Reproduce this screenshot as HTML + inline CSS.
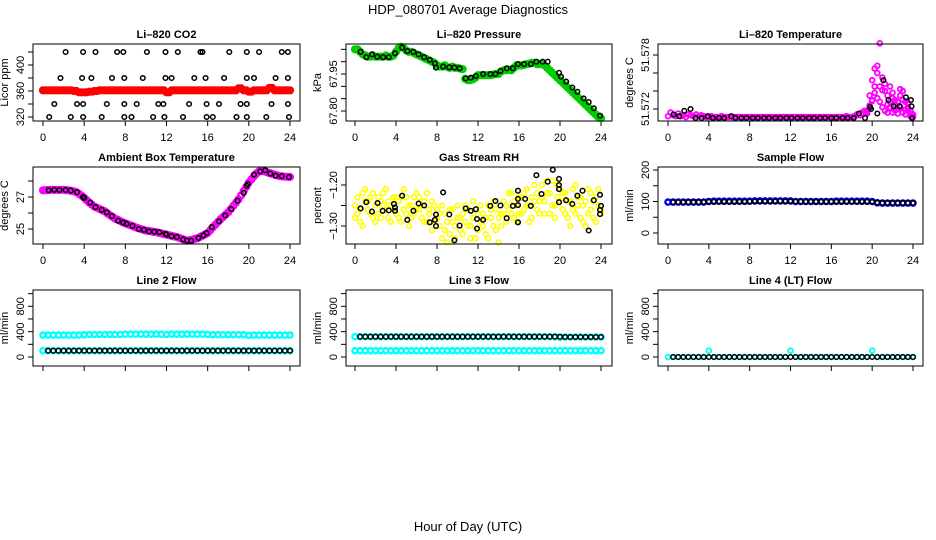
<!DOCTYPE html>
<html><head><meta charset="utf-8"><style>
body{margin:0;background:#fff}
svg{display:block;font-family:"Liberation Sans",Arial,sans-serif}
</style></head><body>
<svg id="c" width="936" height="540" viewBox="0 0 936 540">
<text x="468" y="14" text-anchor="middle" font-size="13">HDP_080701  Average Diagnostics</text>
<text x="468" y="531" text-anchor="middle" font-size="13">Hour of Day (UTC)</text>
</svg>
<script>
// ---- shared categories ----
const blackH = [0.6,1.1,1.7,2.2,2.7,3.3,3.9,4.4,5.0,5.5,6.1,6.6,7.2,7.7,8.3,8.8,9.4,9.9,10.5,11.0,11.6,12.1,12.7,13.2,13.8,14.3,14.9,15.4,16.0,16.5,17.1,17.6,18.2,18.7,19.3,19.8,20.4,20.9,21.5,22.0,22.6,23.1,23.7,24.0];
const xTicks = [0,4,8,12,16,20,24];

// ---- CO2 ----
const co2RedH = [0,0.5,1,1.5,2,2.5,3,3.5,4,4.5,5,5.5,6,6.5,7,7.5,8,8.5,9,9.5,10,10.5,11,11.5,12,12.5,13,13.5,14,14.5,15,15.5,16,16.5,17,17.5,18,18.5,19,19.5,20,20.5,21,21.5,22,22.5,23,23.5,24];
const co2Red = [361,361,361,361,361,361,360,358,358,359,360,361,361,361,361,361,361,361,361,361,361,361,361,361,358,361,361,361,361,361,361,361,361,361,361,361,361,361,364,361,359,361,361,361,365,361,361,361,361];
const co2BlackH = [2.2,3.9,5.1,7.2,7.8,10.1,11.9,13.1,15.3,15.5,18.1,19.8,21.0,23.2,23.8, 1.7,3.8,4.7,6.7,7.9,9.7,11.9,12.5,14.7,15.8,17.6,19.8,20.5,22.6,23.8, 1.1,3.3,3.9,6.2,7.9,9.1,11.2,11.7,14.2,15.9,17.1,19.2,19.8,22.2,23.8, 0.6,2.7,3.9,5.7,7.9,8.6,10.7,11.8,13.6,15.9,16.5,18.8,19.8,21.7,23.9];
const co2Black = [420,420,420,420,420,420,420,420,420,420,420,420,420,420,420, 380,380,380,380,380,380,380,380,380,380,380,380,380,380,380, 340,340,340,340,340,340,340,340,340,340,340,340,340,340,340, 320,320,320,320,320,320,320,320,320,320,320,320,320,320,320];

// ---- Pressure ----
const presGreen = [68.05,68.05,68.04,68.03,68.025,68.02,68.02,68.025,68.02,68.02,68.02,68.02,68.025,68.02,68.02,68.025,68.04,68.055,68.06,68.055,68.045,68.04,68.04,68.035,68.03,68.025,68.02,68.015,68.01,68.005,68.0,67.995,67.985,67.98,67.98,67.985,67.978,67.975,67.98,67.975,67.975,67.972,67.97,67.93,67.925,67.925,67.928,67.935,67.945,67.945,67.945,67.945,67.945,67.945,67.948,67.95,67.95,67.96,67.965,67.965,67.968,67.965,67.975,67.985,67.985,67.985,67.987,67.99,67.992,67.995,67.995,67.99,67.99,67.99,67.985,67.975,67.965,67.955,67.945,67.935,67.925,67.915,67.905,67.895,67.885,67.875,67.865,67.855,67.845,67.835,67.825,67.815,67.805,67.795,67.785,67.775,67.77];
const presBlackH = [0.55,1.1,1.66,2.18,2.74,3.3,3.9,4.6,5.1,5.7,6.2,6.75,7.3,7.8,7.9,8.6,9.2,9.7,10.2,10.8,11.3,11.8,12.5,13.2,13.7,14.2,14.8,15.4,15.9,16.5,17.15,17.7,18.3,18.8,19.9,20.1,20.6,21.2,21.7,22.3,22.8,23.3,23.9];
const presBlack = [68.04,68.018,68.03,68.02,68.018,68.018,68.034,68.057,68.043,68.04,68.03,68.018,68.007,67.993,67.976,67.98,67.977,67.976,67.973,67.932,67.935,67.942,67.95,67.95,67.95,67.962,67.973,67.973,67.99,67.99,67.99,68.0,68.0,68.0,67.955,67.939,67.919,67.895,67.878,67.851,67.836,67.811,67.781];

// ---- Li-820 Temperature ----
const tempMag = [51.5712,51.5716,51.5713,51.5712,51.5715,51.5712,51.5713,51.5711,51.5714,51.5713,51.5712,51.5714,51.5712,51.5713,51.5712,
51.5711,51.5711,51.5712,51.5711,51.5711,51.5711,51.5712,51.5711,51.5711,51.5711,51.5711,51.5711,51.5711,51.5711,51.5711,51.5711,51.5711,51.5711,51.5711,51.5711,51.5711,51.5711,51.5711,51.5711,51.5711,51.5711,51.5711,51.5711,51.5711,51.5711,51.5711,51.5711,51.5711,51.5711,51.5711,51.5711,51.5711,51.5711,51.5711,51.5711,51.5711,51.5711,51.5711,51.5711,51.5711,51.5711,51.5711,51.5711,51.5711,51.5711,51.5711,51.5711,51.5711,51.5711,51.5711,51.5712,51.5711,51.5711,
51.5712,51.5714,51.5713,51.5716,51.5718,51.5715,
51.5724,51.5730,51.5738,51.5760,51.5745,51.5741,51.5748,51.5735,51.5728,51.5732,51.5725,51.5720,51.5735,51.5740,51.5728,51.5722,51.5718,51.5714];
const tempMag2H = [19.5,19.75,20,20.25,20.5,20.75,21,21.25,21.5,21.75,22,22.25,22.5,22.75,23,23.25,23.5,23.75,24];
const tempMag2 = [51.5718,51.5735,51.5752,51.5765,51.5768,51.5793,51.5755,51.5740,51.5725,51.5745,51.5738,51.5718,51.5728,51.5742,51.5730,51.5719,51.5726,51.5715,51.5712];
const tempMag3 = [51.5716,51.5722,51.5729,51.5745,51.5732,51.5728,51.5722,51.5718,51.5716,51.5722,51.5716,51.5730,51.5715,51.5722,51.5716,51.5714,51.5720,51.5712,51.5711];
const tempBlackH = [0.55,1.1,1.6,2.2,2.7,3.3,3.9,4.4,5.0,5.5,6.2,6.6,7.2,7.7,8.3,8.8,9.4,9.9,10.5,11.0,11.6,12.1,12.7,13.2,13.8,14.3,14.9,15.4,16.0,16.5,17.1,17.6,18.2,18.7,19.3,19.8,19.9,20.5,21.1,21.6,22.1,22.7,23.3,23.8,23.85,23.9];
const tempBlack = [51.5714,51.5712,51.5718,51.5720,51.5710,51.5710,51.5712,51.5710,51.5710,51.5710,51.5712,51.5710,51.5710,51.5710,51.5710,51.5710,51.5710,51.5710,51.5710,51.5710,51.5710,51.5710,51.5710,51.5710,51.5710,51.5710,51.5710,51.5710,51.5710,51.5710,51.5710,51.5710,51.5710,51.5715,51.5710,51.5722,51.5720,51.5715,51.5752,51.5730,51.5723,51.5723,51.5733,51.5730,51.5723,51.5710];

// ---- Ambient box temperature ----
const ambMag = [27.42,27.43,27.44,27.45,27.45,27.45,27.45,27.45,27.45,27.43,27.41,27.38,27.35,27.3,27.2,27.08,26.95,26.8,26.65,26.52,26.4,26.32,26.25,26.17,26.1,25.98,25.87,25.76,25.65,25.58,25.5,25.42,25.35,25.29,25.23,25.16,25.1,25.05,25.0,24.95,24.9,24.88,24.85,24.82,24.8,24.76,24.72,24.68,24.65,24.61,24.57,24.53,24.5,24.44,24.38,24.32,24.27,24.3,24.34,24.38,24.42,24.5,24.58,24.66,24.75,24.92,25.1,25.27,25.45,25.6,25.75,25.9,26.05,26.25,26.45,26.65,26.85,27.1,27.38,27.64,27.9,28.1,28.3,28.48,28.6,28.62,28.6,28.55,28.5,28.45,28.4,28.35,28.3,28.29,28.27,28.26,28.25];
const ambBlackH = [0.55,1.1,1.6,2.2,2.7,3.3,3.9,4.0,4.6,5.1,5.7,6.2,6.7,7.3,7.8,8.1,8.7,9.3,9.8,10.3,10.8,11.3,11.9,12.0,12.5,13.0,13.6,14.0,14.4,15.1,15.6,15.9,16.4,17.1,17.7,18.3,18.9,19.5,19.8,19.9,20.5,21.1,21.6,22.1,22.6,23.2,23.9];
const ambBlack = [27.42,27.45,27.44,27.44,27.4,27.3,27.0,26.94,26.65,26.37,26.2,26.04,25.8,25.52,25.4,25.33,25.2,25.0,24.95,24.85,24.83,24.8,24.7,24.65,24.55,24.5,24.35,24.27,24.27,24.44,24.6,24.75,25.12,25.48,25.85,26.25,26.77,27.25,27.7,27.8,28.4,28.6,28.67,28.46,28.33,28.3,28.25];

// ---- Gas stream RH ----
const rhY1 = [-1.25,-1.27,-1.29,-1.22,-1.24,-1.26,-1.23,-1.28,-1.25,-1.27,-1.24,-1.22,-1.26,-1.28,-1.25,-1.23,-1.27,-1.24,-1.29,-1.26,-1.23,-1.30,-1.25,-1.27,-1.22,-1.26,-1.28,-1.24,-1.29,-1.27,-1.31,-1.25,-1.28,-1.30,-1.33,-1.27,-1.29,-1.32,-1.26,-1.30,-1.28,-1.31,-1.27,-1.25,-1.30,-1.33,-1.28,-1.26,-1.31,-1.29,-1.27,-1.32,-1.25,-1.28,-1.30,-1.26,-1.34,-1.27,-1.24,-1.29,-1.26,-1.22,-1.28,-1.25,-1.27,-1.23,-1.26,-1.21,-1.25,-1.28,-1.24,-1.22,-1.27,-1.20,-1.24,-1.22,-1.27,-1.19,-1.25,-1.23,-1.21,-1.26,-1.22,-1.28,-1.24,-1.21,-1.27,-1.25,-1.23,-1.29,-1.24,-1.21,-1.26,-1.28,-1.23,-1.25,-1.27];
const rhY2 = [-1.28,-1.23,-1.26,-1.30,-1.21,-1.24,-1.27,-1.22,-1.29,-1.23,-1.28,-1.25,-1.21,-1.24,-1.29,-1.26,-1.23,-1.28,-1.23,-1.21,-1.27,-1.25,-1.28,-1.23,-1.26,-1.23,-1.25,-1.29,-1.22,-1.26,-1.24,-1.29,-1.26,-1.27,-1.25,-1.31,-1.34,-1.26,-1.29,-1.33,-1.25,-1.28,-1.32,-1.29,-1.26,-1.30,-1.24,-1.33,-1.27,-1.25,-1.30,-1.28,-1.33,-1.26,-1.24,-1.31,-1.28,-1.30,-1.27,-1.25,-1.22,-1.27,-1.24,-1.29,-1.23,-1.27,-1.22,-1.25,-1.29,-1.23,-1.20,-1.26,-1.24,-1.23,-1.27,-1.19,-1.22,-1.25,-1.28,-1.20,-1.24,-1.22,-1.27,-1.24,-1.30,-1.26,-1.20,-1.23,-1.28,-1.25,-1.30,-1.27,-1.22,-1.24,-1.29,-1.21,-1.26];
const rhBlackH = [0.55,1.1,1.66,2.2,2.7,3.3,3.8,3.9,3.9,4.6,5.1,5.7,6.2,6.75,7.3,7.8,7.9,7.9,8.6,9.2,9.7,10.2,10.8,11.3,11.8,11.9,11.9,12.5,13.2,13.7,14.2,14.8,15.4,15.9,15.9,15.9,15.9,16.6,17.15,17.7,18.2,18.8,19.3,19.9,19.9,19.9,19.9,20.6,21.2,21.7,22.2,22.8,23.3,23.9,23.9,24.0,23.9];
const rhBlack = [-1.257,-1.242,-1.265,-1.244,-1.263,-1.262,-1.246,-1.255,-1.263,-1.226,-1.285,-1.263,-1.245,-1.25,-1.291,-1.285,-1.272,-1.30,-1.218,-1.272,-1.335,-1.299,-1.257,-1.263,-1.259,-1.283,-1.306,-1.285,-1.251,-1.239,-1.25,-1.281,-1.251,-1.249,-1.234,-1.214,-1.291,-1.234,-1.251,-1.176,-1.222,-1.192,-1.163,-1.185,-1.20,-1.21,-1.242,-1.237,-1.246,-1.226,-1.214,-1.311,-1.237,-1.224,-1.261,-1.251,-1.271];

// ---- Flows (dense series at half-hour steps) ----
const halfH = [0,0.5,1,1.5,2,2.5,3,3.5,4,4.5,5,5.5,6,6.5,7,7.5,8,8.5,9,9.5,10,10.5,11,11.5,12,12.5,13,13.5,14,14.5,15,15.5,16,16.5,17,17.5,18,18.5,19,19.5,20,20.5,21,21.5,22,22.5,23,23.5,24];
const sampleBlue = [98,98,98,98,98,98,98,98,100,101,101,101,101,101,101,101,101,102,102,102,102,102,102,102,102,100,100,100,100,100,100,100,100,101,101,101,101,101,101,101,100,96,95,95,95,95,95,95,95];
const sampleBlack = [98,98,98,98,98,98,99,99,99,99,99,99,99,99,99,100,100,100,100,100,100,101,100,100,100,100,99,99,99,99,99,99,99,99,99,99,99,99,99,98,97,96,96,96,96,96,96,96,98];
const l2CyanHi = [345,345,345,345,345,345,345,345,350,355,355,355,355,355,355,355,360,360,360,360,360,360,360,360,355,360,360,360,360,360,360,360,355,352,352,352,352,352,352,352,340,345,345,345,345,345,345,345,345];
const l2CyanLo = [100,100,100,100,100,100,100,100,100,100,100,100,100,100,100,100,100,100,100,100,100,100,100,100,100,100,100,100,100,100,100,100,100,100,100,100,100,100,100,100,100,100,100,100,100,100,100,100,100];
const l2Black = [100,100,100,100,100,100,100,100,100,100,100,100,100,100,100,100,100,100,100,100,100,100,100,100,100,100,100,100,100,100,100,100,100,100,100,100,100,100,100,100,100,100,100,100,100,100,100,100,100];
const l3CyanHi = [320,320,320,320,320,320,320,320,320,320,320,320,320,320,320,320,320,320,320,320,320,320,320,320,320,320,320,320,320,320,320,320,320,320,320,320,320,320,320,320,310,315,315,315,315,315,315,315,315];
const l3CyanLo = [100,100,100,100,100,100,100,100,100,100,100,100,100,100,100,100,100,100,100,100,100,100,100,100,100,100,100,100,100,100,100,100,100,100,100,100,100,100,100,100,100,100,100,100,100,100,100,100,100];
const l3Black = [320,320,320,320,320,320,320,320,320,320,320,320,320,320,320,320,320,320,320,320,320,320,320,320,320,320,320,320,320,320,320,320,320,320,320,320,320,320,320,320,315,315,315,315,315,315,315,315,315];
const l4Cyan = [0,0,0,0,0,0,0,0,100,0,0,0,0,0,0,0,0,0,0,0,0,0,0,0,100,0,0,0,0,0,0,0,0,0,0,0,0,0,0,0,100,0,0,0,0,0,0,0,0];
const l4Black = [0,0,0,0,0,0,0,0,0,0,0,0,0,0,0,0,0,0,0,0,0,0,0,0,0,0,0,0,0,0,0,0,0,0,0,0,0,0,0,0,0,0,0,0,0,0,0,0,0];

const quarterH = [];
for (let i = 0; i <= 96; i++) quarterH.push(i * 0.25);

const NS = 'http://www.w3.org/2000/svg';
const svg = document.getElementById('c');
function mk(tag, attrs, parent) {
  const e = document.createElementNS(NS, tag);
  for (const k in attrs) e.setAttribute(k, attrs[k]);
  (parent || svg).appendChild(e);
  return e;
}
const COLS = [{L:33,R:300,x0:43,x24:290},{L:346,R:612,x0:355,x24:601},{L:658,R:923,x0:668,x24:913}];
const ROWS = [{T:44,B:121},{T:167,B:244},{T:290,B:366}];

function panel(opt) {
  const c = COLS[opt.col], r = ROWS[opt.row];
  const g = mk('g', {});
  
  
  const xs = h => c.x0 + (c.x24 - c.x0) * h / 24;
  const ys = v => opt.p1 + (v - opt.v1) * (opt.p2 - opt.p1) / (opt.v2 - opt.v1);
  const t = mk('text', {x:(c.L+c.R)/2, y:r.T-6, 'text-anchor':'middle', 'font-size':11, 'font-weight':'bold'}, g);
  t.textContent = opt.title;
  
  
  mk('line', {x1:xs(0), x2:xs(24), y1:r.B, y2:r.B, stroke:'#000'}, g);
  xTicks.forEach(h => {
    mk('line', {x1:xs(h), x2:xs(h), y1:r.B, y2:r.B+5, stroke:'#000'}, g);
    if (opt.xlabels) {
      const tl = mk('text', {x:xs(h), y:r.B+20, 'text-anchor':'middle', 'font-size':11}, g);
      tl.textContent = h;
      
      
    }
  });
  opt.yticks.forEach(v => {
    const y = ys(v);
    mk('line', {x1:c.L-5, x2:c.L, y1:y, y2:y, stroke:'#000'}, g);
  });
  opt.ylabels.forEach(lab => {
    const y = ys(parseFloat(lab.replace('\u2212', '-')));
    const tl = mk('text', {x:0, y:0, 'text-anchor':'middle', 'font-size':11,
      transform:'translate(' + (c.L-9) + ',' + y + ') rotate(-90)'}, g);
    tl.textContent = lab;
    
    
  });
  const yt = mk('text', {x:0, y:0, 'text-anchor':'middle', 'font-size':11,
    transform:'translate(' + (c.L-25) + ',' + ((r.T+r.B)/2) + ') rotate(-90)'}, g);
  yt.textContent = opt.ytitle;
  
  
  opt.series.forEach(s => {
    const sg = mk('g', {fill:'none', stroke:s.color, 'stroke-width':s.w || 1.5}, g);
    
    
    s.x.forEach((h, i) => {
      if (s.y[i] === undefined) return;
      const p = mk('circle', {cx:xs(h).toFixed(1), cy:ys(s.y[i]).toFixed(1), r:s.r || 2.3}, sg);
      
      
    });
  });
  mk('rect', {x:c.L, y:r.T, width:c.R-c.L, height:r.B-r.T, fill:'none', stroke:'#000'}, g);
}

const DENSE = {r:2.6, w:2.4};
panel({col:0,row:0,name:'panel-co2',title:'Li\u2013820 CO2',ytitle:'Licor ppm',xlabels:true,
  v1:320,p1:117,v2:400,p2:65,yticks:[320,340,360,380,400,420],ylabels:['320','360','400'],
  series:[{name:'co2-red',color:'#ff0000',x:co2RedH,y:co2Red,r:2.6,w:3},
          {name:'co2-red-fill',color:'#ff0000',x:quarterH.filter((h,i)=>i%2==1),y:co2Red,r:2.6,w:3},
          {name:'co2-black',color:'#000',x:co2BlackH,y:co2Black}]});
panel({col:1,row:0,name:'panel-pressure',title:'Li\u2013820 Pressure',ytitle:'kPa',xlabels:true,
  v1:67.80,p1:111,v2:67.95,p2:74,yticks:[67.80,67.85,67.90,67.95,68.00,68.05],ylabels:['67.80','67.95'],
  series:[{name:'pressure-green',color:'#00cc00',x:quarterH,y:presGreen,r:2.8,w:2.6},
          {name:'pressure-black',color:'#000',x:presBlackH,y:presBlack}]});
panel({col:2,row:0,name:'panel-li820-temp',title:'Li\u2013820 Temperature',ytitle:'degrees C',xlabels:true,
  v1:51.572,p1:109,v2:51.578,p2:55,yticks:[51.572,51.574,51.576,51.578],ylabels:['51.572','51.578'],
  series:[{name:'temp-magenta',color:'#ff00ff',x:quarterH,y:tempMag,r:2.4,w:1.8},
          {name:'temp-magenta-2',color:'#ff00ff',x:tempMag2H,y:tempMag2,r:2.4,w:1.8},
          {name:'temp-magenta-3',color:'#ff00ff',x:tempMag2H,y:tempMag3,r:2.4,w:1.8},
          {name:'temp-black',color:'#000',x:tempBlackH,y:tempBlack}]});
panel({col:0,row:1,name:'panel-ambient',title:'Ambient Box Temperature',ytitle:'degrees C',xlabels:true,
  v1:25,p1:229,v2:27,p2:197,yticks:[25,26,27,28],ylabels:['25','27'],
  series:[{name:'ambient-magenta',color:'#ff00ff',x:quarterH,y:ambMag,r:2.8,w:2.6},
          {name:'ambient-black',color:'#000',x:ambBlackH,y:ambBlack}]});
panel({col:1,row:1,name:'panel-rh',title:'Gas Stream RH',ytitle:'percent',xlabels:true,
  v1:-1.30,p1:226,v2:-1.20,p2:185,yticks:[-1.30,-1.25,-1.20],ylabels:['\u22121.30','\u22121.20'],
  series:[{name:'rh-yellow-1',color:'#ffff00',x:quarterH,y:rhY1,r:2.4,w:1.6},
          {name:'rh-yellow-2',color:'#ffff00',x:quarterH,y:rhY2,r:2.4,w:1.6},
          {name:'rh-black',color:'#000',x:rhBlackH,y:rhBlack}]});
panel({col:2,row:1,name:'panel-sample-flow',title:'Sample Flow',ytitle:'ml/min',xlabels:true,
  v1:0,p1:233,v2:200,p2:170,yticks:[0,50,100,150,200],ylabels:['0','100','200'],
  series:[{name:'sample-blue',color:'#0000ff',x:halfH,y:sampleBlue,r:DENSE.r,w:DENSE.w},
          {name:'sample-black',color:'#000',x:halfH.slice(1),y:sampleBlack}]});
const row3 = {v1:0,p1:357,v2:800,p2:306.3,yticks:[0,200,400,600,800,1000],ylabels:['0','400','800']};
panel(Object.assign({col:0,row:2,name:'panel-line2',title:'Line 2 Flow',ytitle:'ml/min',xlabels:false,
  series:[{name:'line2-cyan-high',color:'#00ffff',x:halfH,y:l2CyanHi,r:DENSE.r,w:DENSE.w},
          {name:'line2-cyan-low',color:'#00ffff',x:halfH,y:l2CyanLo,r:DENSE.r,w:DENSE.w},
          {name:'line2-black',color:'#000',x:halfH.slice(1),y:l2Black}]}, row3));
panel(Object.assign({col:1,row:2,name:'panel-line3',title:'Line 3 Flow',ytitle:'ml/min',xlabels:false,
  series:[{name:'line3-cyan-high',color:'#00ffff',x:halfH,y:l3CyanHi,r:DENSE.r,w:DENSE.w},
          {name:'line3-cyan-low',color:'#00ffff',x:halfH,y:l3CyanLo,r:DENSE.r,w:DENSE.w},
          {name:'line3-black',color:'#000',x:halfH.slice(1),y:l3Black}]}, row3));
panel(Object.assign({col:2,row:2,name:'panel-line4',title:'Line 4 (LT) Flow',ytitle:'ml/min',xlabels:false,
  series:[{name:'line4-cyan',color:'#00ffff',x:halfH,y:l4Cyan,r:2.4,w:1.8},
          {name:'line4-black',color:'#000',x:halfH.slice(1),y:l4Black}]}, row3));
</script>
</body></html>
